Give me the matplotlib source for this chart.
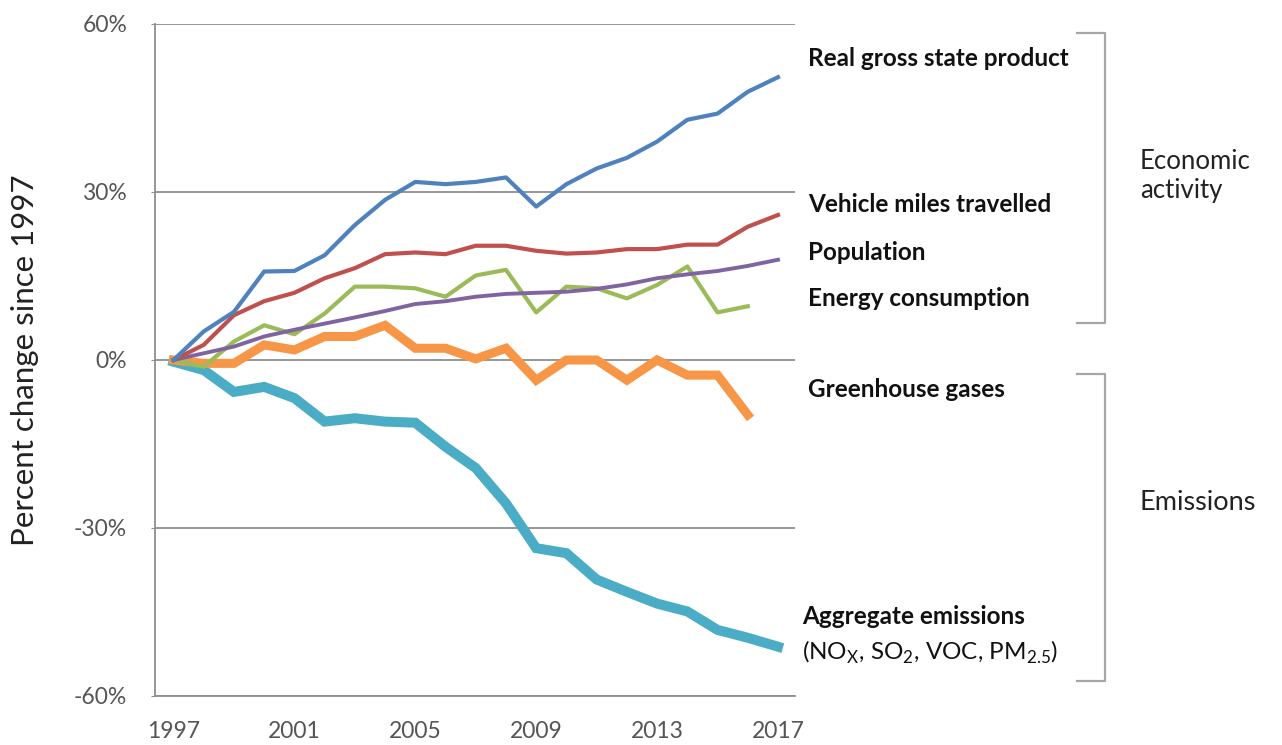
import numpy as np
import matplotlib
matplotlib.use("Agg")
import matplotlib.pyplot as plt
from matplotlib.lines import Line2D

plt.rcParams['font.family'] = ['Lato', 'DejaVu Sans']
plt.rcParams['mathtext.fontset'] = 'custom'
plt.rcParams['mathtext.rm'] = 'Lato'

### values, percent change since 1997
years = list(range(1997, 2018))

gsp = [0, 5.1, 8.6, 15.8, 15.9, 18.7, 24.1, 28.6, 31.8, 31.4, 31.8,
       32.6, 27.4, 31.4, 34.2, 36.1, 39.0, 42.9, 44.0, 47.9, 50.5]
vmt = [0, 2.7, 8.0, 10.5, 12.0, 14.6, 16.4, 18.9, 19.2, 18.9, 20.4,
       20.4, 19.5, 19.0, 19.2, 19.8, 19.8, 20.6, 20.6, 23.8, 25.9]
population = [0, 1.2, 2.4, 4.2, 5.4, 6.5, 7.6, 8.75, 10.0, 10.5, 11.3,
              11.8, 12.0, 12.2, 12.7, 13.5, 14.6, 15.3, 15.9, 16.8, 17.9]
energy = [0, -1.2, 3.3, 6.2, 4.6, 8.3, 13.1, 13.1, 12.8, 11.3, 15.1,
          16.1, 8.5, 13.1, 12.8, 11.0, 13.4, 16.7, 8.5, 9.6]
ghg = [0, -0.6, -0.6, 2.7, 1.8, 4.2, 4.2, 6.2, 2.1, 2.1, 0.2,
       2.1, -3.6, 0, 0, -3.6, 0, -2.7, -2.7, -9.8]
aggregate = [-0.3, -1.8, -5.7, -4.8, -6.8, -11.0, -10.4, -11.0, -11.2, -15.5, -19.3,
             -25.6, -33.6, -34.5, -39.2, -41.4, -43.5, -44.9, -48.2, -49.6, -51.2]

yticks = [60, 30, 0, -30, -60]
xticks = [1997, 2001, 2005, 2009, 2013, 2017]

W, H = 1282, 745
fig = plt.figure(figsize=(W / 100, H / 100), dpi=100)
ax = fig.add_axes([155 / W, 1 - 696 / H, 640 / W, 672 / H])

grey = '#8f8f8f'
ax.plot(years, aggregate, color='#4BACC6', lw=7.2, solid_joinstyle='miter')
ax.plot(years[:len(ghg)], ghg, color='#F79646', lw=6.5, solid_joinstyle='miter')
ax.plot(years[:len(energy)], energy, color='#9BBB59', lw=3.0)
ax.plot(years, population, color='#8064A2', lw=2.8)
ax.plot(years, vmt, color='#C0504D', lw=3.0)
ax.plot(years, gsp, color='#4F81BD', lw=3.0)

ax.set_xlim(1997 - 18.5 / 30.22, 2017 + 17 / 30.22)
ax.set_ylim(-60, 60)
ax.set_yticks(yticks)
ax.set_yticklabels([f"{v}%" for v in yticks])
ax.set_xticks(xticks)
ax.yaxis.grid(True, color=grey, lw=1.3)
ax.set_axisbelow(True)
for s in ['top', 'right']:
    ax.spines[s].set_visible(False)
for s in ['left', 'bottom']:
    ax.spines[s].set_color(grey)
    ax.spines[s].set_linewidth(1.3)
ax.tick_params(axis='y', length=3, color=grey, pad=17, labelsize=16.5, labelcolor='#555555')
ax.tick_params(axis='x', length=0, pad=18, labelsize=16.5, labelcolor='#555555')

fig.text(25 / W, 1 - 360 / H, "Percent change since 1997", rotation=90,
         ha='center', va='center', fontsize=22.5, color='#222222')

labels = [("Real gross state product", 808, 58),
          ("Vehicle miles travelled", 808, 205),
          ("Population", 808, 252),
          ("Energy consumption", 808, 299),
          ("Greenhouse gases", 808, 389),
          ("Aggregate emissions", 802, 617)]
for txt, px, py in labels:
    fig.text(px / W, 1 - py / H, txt, ha='left', va='center', fontsize=17.5,
             fontweight='bold', color='#111111')
fig.text(802 / W, 1 - 652 / H,
         r"(NO$_\mathregular{X}$, SO$_\mathregular{2}$, VOC, PM$_\mathregular{2.5}$)",
         ha='left', va='center', fontsize=17.5, color='#111111')

### brackets
bcol = '#a6a6a6'
for top, bot in [(33, 323), (374, 681)]:
    xs = [1077 / W, 1105 / W, 1105 / W, 1077 / W]
    ys = [1 - top / H, 1 - top / H, 1 - bot / H, 1 - bot / H]
    fig.add_artist(Line2D(xs, ys, color=bcol, lw=1.6))

fig.text(1140 / W, 1 - 176 / H, "Economic\nactivity", ha='left', va='center',
         fontsize=18.5, color='#222222', linespacing=1.2)
fig.text(1140 / W, 1 - 503 / H, "Emissions", ha='left', va='center',
         fontsize=19.5, color='#222222')

fig.savefig("out.png", dpi=100)
